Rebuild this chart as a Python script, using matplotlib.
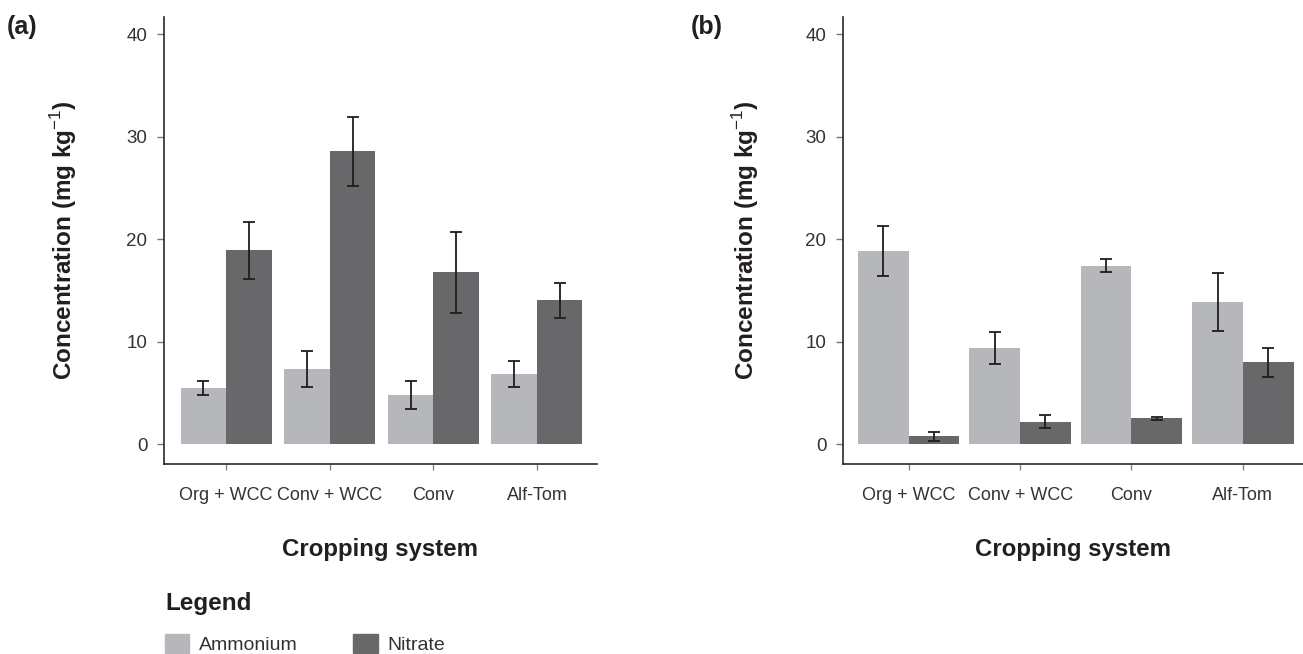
import matplotlib
matplotlib.use('Agg')
import numpy as np
import matplotlib.pyplot as plt
from matplotlib.patches import Patch

plt.rcParams['font.family'] = ['Liberation Sans', 'DejaVu Sans']
plt.rcParams['mathtext.fontset'] = 'custom'
plt.rcParams['mathtext.rm'] = 'Liberation Sans'
plt.rcParams['mathtext.bf'] = 'Liberation Sans:bold'

# soil mineral N by cropping system
systems = ['Org + WCC', 'Conv + WCC', 'Conv', 'Alf-Tom']

amm_a = [5.45, 7.32, 4.78, 6.83]
amm_a_err = [0.67, 1.74, 1.40, 1.27]
nit_a = [18.93, 28.59, 16.78, 14.05]
nit_a_err = [2.78, 3.37, 3.95, 1.70]

amm_b = [18.83, 9.34, 17.41, 13.87]
amm_b_err = [2.42, 1.57, 0.63, 2.84]
nit_b = [0.75, 2.20, 2.50, 7.97]
nit_b_err = [0.43, 0.68, 0.16, 1.41]

c_amm = '#b6b7ba'
c_nit = '#68686b'
ink = '#231f20'

W, H = 1303, 654
fig = plt.figure(figsize=(W / 100, H / 100), dpi=100)

def px_axes(left, right, top, bottom):
    return fig.add_axes([left / W, 1 - bottom / H, (right - left) / W, (bottom - top) / H])

ax_a = px_axes(164, 597, 17, 464)
ax_b = px_axes(843, 1303, 17, 464)

panels = [
    (ax_a, amm_a, amm_a_err, nit_a, nit_a_err, (-0.60, 3.58), 0.44),
    (ax_b, amm_b, amm_b_err, nit_b, nit_b_err, (-0.59, 3.54), 0.455),
]

x = np.arange(len(systems))
for ax, amm, amm_err, nit, nit_err, xlim, w in panels:
    err_kw = dict(ecolor='#1e1e1e', elinewidth=1.3, capsize=4, capthick=1.3)
    ax.bar(x - w / 2, amm, w, yerr=amm_err, color=c_amm, error_kw=err_kw)
    ax.bar(x + w / 2, nit, w, yerr=nit_err, color=c_nit, error_kw=err_kw)

    ax.set_xlim(*xlim)
    ax.set_ylim(-1.95, 41.7)
    ax.set_yticks([0, 10, 20, 30, 40])
    ax.set_xticks(x)
    ax.set_xticklabels(systems)

    for side in ['top', 'right']:
        ax.spines[side].set_visible(False)
    for side in ['left', 'bottom']:
        ax.spines[side].set_color('#2a2a2a')
        ax.spines[side].set_linewidth(1.2)

    ax.tick_params(axis='y', length=5, width=1, color='#777777', pad=7,
                   labelsize=13.5, labelcolor='#333333')
    ax.tick_params(axis='x', length=4.5, width=1, color='#888888', pad=12,
                   labelsize=13, labelcolor='#333333')

    ax.set_ylabel(r'Concentration (mg kg$^{-1}$)', fontsize=17.5,
                  fontweight='bold', color=ink, va='center')
    ax.set_xlabel('Cropping system', fontsize=17.3, fontweight='bold',
                  color=ink, va='center')
    ax.xaxis.set_label_coords(0.5, -0.192)

ax_a.yaxis.set_label_coords(-100 / 433, 0.5)
ax_b.yaxis.set_label_coords(-97 / 460, 0.5)

fig.text(7 / W, 1 - 15 / H, '(a)', fontsize=18, fontweight='bold', color=ink,
         ha='left', va='top')
fig.text(691 / W, 1 - 15 / H, '(b)', fontsize=18, fontweight='bold', color=ink,
         ha='left', va='top')

handles = [Patch(color=c_amm, label='Ammonium'), Patch(color=c_nit, label='Nitrate')]
leg = fig.legend(handles=handles, loc='upper left', bbox_to_anchor=(165 / W, 1 - 592 / H),
                 ncol=2, frameon=False, fontsize=14, title='Legend',
                 title_fontproperties={'weight': 'bold', 'size': 17.5},
                 alignment='left', borderpad=0, borderaxespad=0,
                 handlelength=1.25, handleheight=1.1, handletextpad=0.5,
                 columnspacing=2.85, labelspacing=0)
leg._legend_box.sep = 14
for t in leg.get_texts():
    t.set_color('#333333')
leg.get_title().set_color(ink)

fig.savefig('out.png', dpi=100)
